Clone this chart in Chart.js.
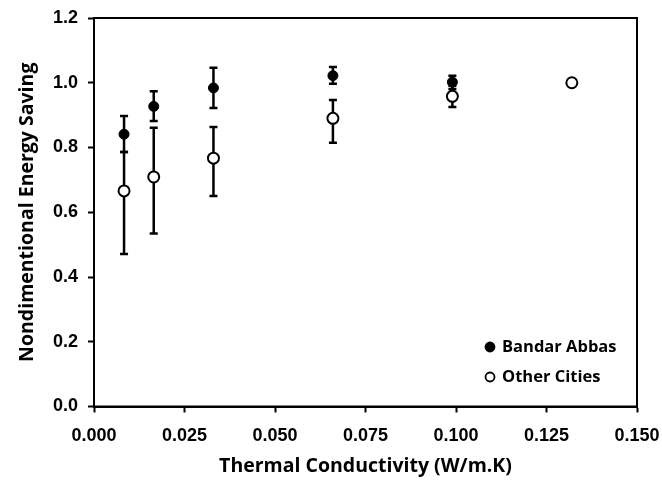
<!DOCTYPE html>
<html>
<head>
<meta charset="utf-8">
<script src="https://cdn.jsdelivr.net/npm/chart.js@4.4.1/dist/chart.umd.min.js"></script>
<style>
  html, body { margin: 0; padding: 0; background: #fff; }
  #chart { display: block; }
</style>
</head>
<body>
<canvas id="chart" width="662" height="481"></canvas>
<script>
// thermal conductivity (W/m.K)
const bandarX = [0.0083, 0.0165, 0.033, 0.066, 0.099];
const bandarY = [0.841, 0.927, 0.984, 1.022, 1.002];
const bandarLow = [0.786, 0.882, 0.922, 0.997, 0.98];
const bandarHigh = [0.897, 0.974, 1.046, 1.049, 1.022];

const otherX = [0.0083, 0.0165, 0.033, 0.066, 0.099, 0.132];
const otherY = [0.666, 0.709, 0.767, 0.89, 0.958, 1.0];
const otherLow = [0.471, 0.534, 0.65, 0.815, 0.925, 1.0];
const otherHigh = [0.786, 0.861, 0.863, 0.947, 0.99, 1.0];

const xTicks = [0, 0.025, 0.05, 0.075, 0.1, 0.125, 0.15];
const yTicks = [0, 0.2, 0.4, 0.6, 0.8, 1.0, 1.2];

const tickFont = { family: "'Liberation Sans', Arial, sans-serif", size: 18, weight: "bold" };
const titleFont = { family: "'Open Sans', Lato, sans-serif", size: 19.5, weight: "bold" };

function toPoints(xs, ys, lows, highs) {
  return xs.map((x, i) => ({ x: x, y: ys[i], lo: lows[i], hi: highs[i] }));
}

// vertical error bars with caps, drawn under the markers
const errorBars = {
  id: "errorBars",
  beforeDatasetsDraw(chart) {
    const ctx = chart.ctx;
    const xs = chart.scales.x;
    const ys = chart.scales.y;
    ctx.save();
    ctx.strokeStyle = "#000";
    ctx.lineWidth = 2.5;
    chart.data.datasets.forEach((ds) => {
      ds.data.forEach((p) => {
        if (p.hi - p.lo < 0.001) return;
        const px = xs.getPixelForValue(p.x);
        const top = ys.getPixelForValue(p.hi);
        const bot = ys.getPixelForValue(p.lo);
        ctx.beginPath();
        ctx.moveTo(px, top);
        ctx.lineTo(px, bot);
        ctx.moveTo(px - 4, top);
        ctx.lineTo(px + 4, top);
        ctx.moveTo(px - 4, bot);
        ctx.lineTo(px + 4, bot);
        ctx.stroke();
      });
    });
    ctx.restore();
  },
};

// box around the plot area + legend inside lower right
const frameAndLegend = {
  id: "frameAndLegend",
  afterDraw(chart) {
    const ctx = chart.ctx;
    const a = chart.chartArea;
    ctx.save();
    ctx.strokeStyle = "#000";
    ctx.lineWidth = 2;
    ctx.strokeRect(a.left, a.top, a.right - a.left, a.bottom - a.top);

    const items = [
      { label: chart.data.datasets[0].label, fill: "#000", y: 347 },
      { label: chart.data.datasets[1].label, fill: "#fff", y: 377 },
    ];
    ctx.font = "bold 16.5px 'Open Sans', Lato, sans-serif";
    ctx.textBaseline = "middle";
    ctx.fillStyle = "#000";
    items.forEach((it) => {
      ctx.beginPath();
      ctx.arc(490, it.y, 4.5, 0, Math.PI * 2);
      ctx.fillStyle = it.fill;
      ctx.fill();
      ctx.lineWidth = 1.8;
      ctx.strokeStyle = "#000";
      ctx.stroke();
      ctx.fillStyle = "#000";
      ctx.fillText(it.label, 502, it.y);
    });
    ctx.restore();
  },
};

new Chart(document.getElementById("chart"), {
  type: "scatter",
  data: {
    datasets: [
      {
        label: "Bandar Abbas",
        data: toPoints(bandarX, bandarY, bandarLow, bandarHigh),
        pointRadius: 5,
        pointBackgroundColor: "#000",
        pointBorderColor: "#000",
        pointBorderWidth: 1,
      },
      {
        label: "Other Cities",
        data: toPoints(otherX, otherY, otherLow, otherHigh),
        pointRadius: 5.5,
        pointBackgroundColor: "#fff",
        pointBorderColor: "#000",
        pointBorderWidth: 2,
      },
    ],
  },
  options: {
    responsive: false,
    animation: false,
    layout: { padding: { top: 18, right: 25, left: 0, bottom: 0 } },
    plugins: {
      legend: { display: false },
      tooltip: { enabled: false },
    },
    scales: {
      x: {
        type: "linear",
        min: 0,
        max: 0.15,
        afterBuildTicks: (s) => { s.ticks = xTicks.map((v) => ({ value: v })); },
        afterFit: (s) => {
          s.height = 74.5;
          s.paddingLeft = 0;
          s.paddingRight = 0;
        },
        ticks: {
          color: "#000",
          font: tickFont,
          padding: 13,
          callback: (v) => v.toFixed(3),
        },
        grid: { drawOnChartArea: false, tickLength: 6, tickColor: "#000", tickWidth: 2 },
        border: { color: "#000", width: 2 },
        title: {
          display: true,
          text: "Thermal Conductivity (W/m.K)",
          color: "#000",
          font: titleFont,
          padding: { top: 0, bottom: 3 },
        },
      },
      y: {
        type: "linear",
        min: 0,
        max: 1.2,
        afterBuildTicks: (s) => { s.ticks = yTicks.map((v) => ({ value: v })); },
        afterFit: (s) => {
          s.width = 94;
          s.paddingTop = 0;
          s.paddingBottom = 0;
        },
        ticks: {
          color: "#000",
          font: tickFont,
          padding: 10,
          callback: (v) => v.toFixed(1),
        },
        grid: { drawOnChartArea: false, tickLength: 6, tickColor: "#000", tickWidth: 2 },
        border: { color: "#000", width: 2 },
        title: {
          display: true,
          text: "Nondimentional Energy Saving",
          color: "#000",
          font: titleFont,
          padding: { top: 16, bottom: 0 },
        },
      },
    },
  },
  plugins: [errorBars, frameAndLegend],
});
</script>
</body>
</html>
